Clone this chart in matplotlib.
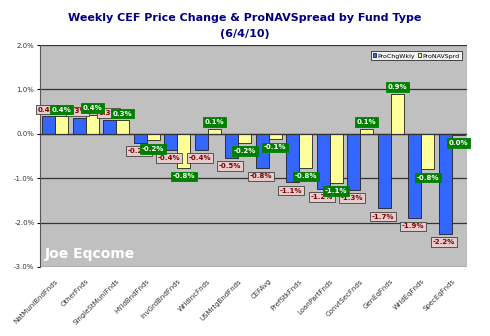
#!/usr/bin/env python
# Weekly CEF price change & ProNAVSpread by fund type - grouped bar chart

import numpy as np
import matplotlib.pyplot as plt

funds = ["NatMuniBndFnds", "OtherFnds", "SingleStMuniFnds", "HYldBndFnds",
         "InvGrdBndFnds", "WrldIncFnds", "USMrtgBndFnds", "CEFAvg",
         "PrefStkFnds", "LoanPartFnds", "ConvtSecFnds", "GenEqFnds",
         "WrldEqFnds", "SpecEqFnds"]
# values in percent
prc_chg = [0.39, 0.35, 0.31, -0.20, -0.36, -0.36, -0.54, -0.77,
           -1.09, -1.24, -1.26, -1.68, -1.90, -2.25]
prc_lbl = ["0.4%", "0.3%", "0.3%", "-0.2%", "-0.4%", "-0.4%", "-0.5%", "-0.8%",
           "-1.1%", "-1.2%", "-1.3%", "-1.7%", "-1.9%", "-2.2%"]
nav_sprd = [0.39, 0.43, 0.30, -0.15, -0.77, 0.11, -0.20, -0.12,
            -0.77, -1.10, 0.11, 0.90, -0.80, -0.02]
nav_lbl = ["0.4%", "0.4%", "0.3%", "-0.2%", "-0.8%", "0.1%", "-0.2%", "-0.1%",
           "-0.8%", "-1.1%", "0.1%", "0.9%", "-0.8%", "0.0%"]
yticks = [2, 1, 0, -1, -2, -3]

fig = plt.figure(figsize=(4.9, 3.36), dpi=100)
ax = fig.add_axes([0.0816, 0.2054, 0.8714, 0.6606])
ax.set_facecolor("#c0c0c0")

x = np.arange(len(funds))
w = 0.43
ax.bar(x - w / 2, prc_chg, w, color="#3366ff", edgecolor="#202020",
       linewidth=0.6, label="ProChgWkly", zorder=3)
ax.bar(x + w / 2, nav_sprd, w, color="#ffff99", edgecolor="#202020",
       linewidth=0.6, label="ProNAVSprd", zorder=3)

# data labels
for xi, v, t in zip(x, prc_chg, prc_lbl):
    off = 5 if v >= 0 else -6
    ax.annotate(t, (xi - w / 2, v), xytext=(-1, off), textcoords="offset points",
                ha="center", va="center", fontsize=5, fontweight="bold",
                color="#800000", zorder=5,
                bbox=dict(boxstyle="square,pad=0.25", fc="#e6cccc",
                          ec="#404040", lw=0.6))
for xi, v, t in zip(x, nav_sprd, nav_lbl):
    off = 5 if v >= 0 else -6
    ax.annotate(t, (xi + w / 2, v), xytext=(0, off), textcoords="offset points",
                ha="center", va="center", fontsize=5, fontweight="bold",
                color="white", zorder=6,
                bbox=dict(boxstyle="square,pad=0.25", fc="#007f00",
                          ec="#007f00", lw=0.6))

ax.set_xlim(-0.5, len(funds) - 0.5)
ax.set_ylim(-3, 2)
ax.set_yticks(yticks)
ax.set_yticklabels(["%.1f%%" % v for v in yticks], fontsize=5, color="#333333")
ax.yaxis.grid(True, color="#333333", linewidth=0.9, zorder=1)
ax.axhline(0, color="#333333", linewidth=0.9, zorder=4)

ax.set_xticks(x)
ax.set_xticklabels(funds, rotation=45, ha="right", rotation_mode="anchor",
                   fontsize=5, color="#333333")
ax.tick_params(axis="x", length=0, pad=8)
ax.tick_params(axis="y", length=2, pad=2)
for s in ["top", "right"]:
    ax.spines[s].set_visible(False)
ax.spines["left"].set_color("#555555")
ax.spines["bottom"].set_visible(False)

ax.text(0.012, 0.04, "Joe Eqcome", transform=ax.transAxes, fontsize=10,
        fontweight="bold", color="white", zorder=5)

leg = ax.legend(loc="upper right", fontsize=4.5, frameon=True, ncol=2,
                handlelength=0.6, handleheight=0.6, handletextpad=0.2,
                columnspacing=0.4, borderpad=0.3, fancybox=False,
                bbox_to_anchor=(0.995, 0.985))
leg.get_frame().set_edgecolor("black")
leg.get_frame().set_linewidth(0.6)

fig.text(0.5, 0.945, "Weekly CEF Price Change & ProNAVSpread by Fund Type",
         ha="center", va="center", fontsize=8, fontweight="heavy",
         color="#000080")
fig.text(0.5, 0.9, "(6/4/10)", ha="center", va="center", fontsize=8,
         fontweight="heavy", color="#000080")

plt.savefig("out.png", dpi=100)
